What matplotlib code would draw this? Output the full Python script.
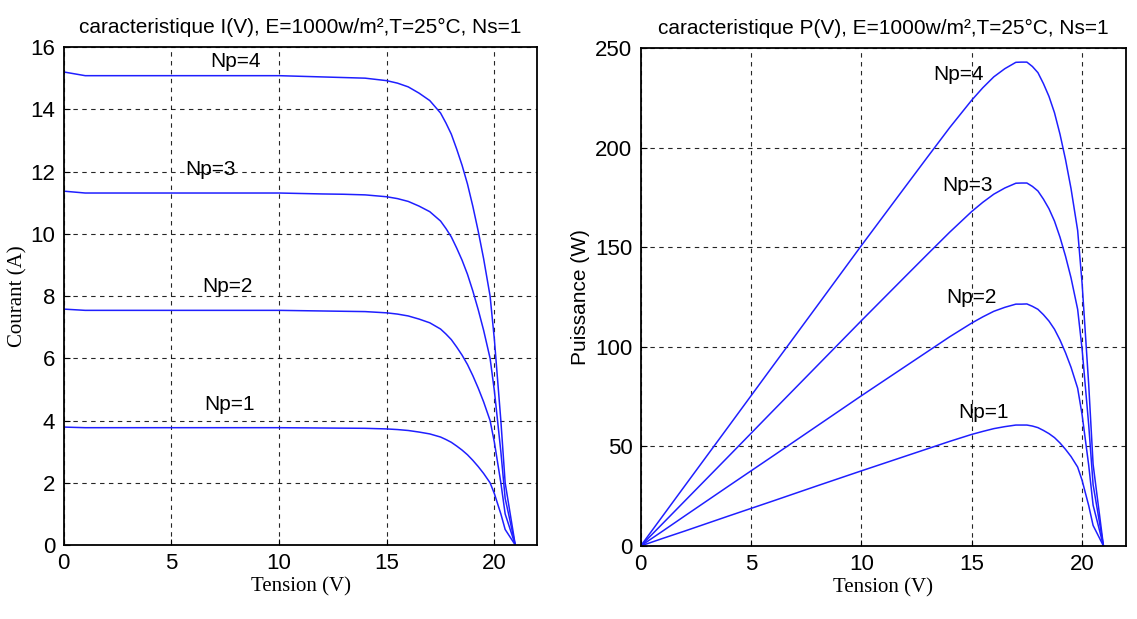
import matplotlib
matplotlib.use('Agg')
import matplotlib.pyplot as plt

# Valeurs (tension en V)
tension = [0, 1, 2, 4, 6, 8, 10, 12, 13, 14, 15, 15.5, 16, 16.5, 17, 17.25, 17.5, 17.75,
           18, 18.25, 18.5, 18.75, 19, 19.25, 19.5, 19.8, 20.0, 20.3, 20.5, 20.97]

courant_np1 = [3.79, 3.77, 3.77, 3.77, 3.77, 3.77, 3.77, 3.76, 3.755, 3.75, 3.73, 3.71, 3.68, 3.63,
               3.57, 3.52, 3.47, 3.39, 3.30, 3.18, 3.05, 2.90, 2.72, 2.52, 2.30, 2.00, 1.65, 1.00,
               0.50, 0.0]
courant_np2 = [7.58, 7.54, 7.54, 7.54, 7.54, 7.54, 7.54, 7.52, 7.51, 7.50, 7.46, 7.42, 7.36, 7.26,
               7.14, 7.04, 6.94, 6.78, 6.60, 6.36, 6.10, 5.80, 5.44, 5.04, 4.60, 4.00, 3.30, 2.00,
               1.00, 0.0]
courant_np3 = [11.37, 11.31, 11.31, 11.31, 11.31, 11.31, 11.31, 11.28, 11.27, 11.25, 11.19, 11.13,
               11.04, 10.89, 10.71, 10.56, 10.41, 10.17, 9.90, 9.54, 9.15, 8.70, 8.16, 7.56, 6.90,
               6.00, 4.95, 3.00, 1.50, 0.0]
courant_np4 = [15.2, 15.08, 15.08, 15.08, 15.08, 15.08, 15.08, 15.04, 15.02, 15.0, 14.92, 14.84,
               14.72, 14.52, 14.28, 14.08, 13.88, 13.56, 13.2, 12.72, 12.2, 11.6, 10.88, 10.08, 9.2,
               8.0, 6.6, 4.0, 2.0, 0.0]

puissance_np1 = [0, 3.8, 7.5, 15.1, 22.6, 30.2, 37.7, 45.1, 48.8, 52.5, 56.0, 57.5, 58.9, 59.9,
                 60.7, 60.7, 60.7, 60.2, 59.4, 58.0, 56.4, 54.4, 51.7, 48.5, 44.9, 39.6, 33.0,
                 20.3, 10.3, 0]
puissance_np2 = [0, 7.5, 15.1, 30.2, 45.2, 60.3, 75.4, 90.2, 97.6, 105.0, 111.9, 115.0, 117.8,
                 119.8, 121.4, 121.4, 121.5, 120.3, 118.8, 116.1, 112.9, 108.8, 103.4, 97.0, 89.7,
                 79.2, 66.0, 40.6, 20.5, 0]
puissance_np3 = [0, 11.3, 22.6, 45.2, 67.9, 90.5, 113.1, 135.4, 146.5, 157.5, 167.9, 172.5, 176.6,
                 179.7, 182.1, 182.2, 182.2, 180.5, 178.2, 174.1, 169.3, 163.1, 155.0, 145.5, 134.6,
                 118.8, 99.0, 60.9, 30.8, 0]
puissance_np4 = [0, 15.1, 30.2, 60.3, 90.5, 120.6, 150.8, 180.5, 195.3, 210.0, 223.8, 230.0, 235.5,
                 239.6, 242.8, 242.9, 242.9, 240.7, 237.6, 232.1, 225.7, 217.5, 206.7, 194.0, 179.4,
                 158.4, 132.0, 81.2, 41.0, 0]

etiquettes = ['Np=1', 'Np=2', 'Np=3', 'Np=4']
pos_etiq_i = [(7.7, 4.5), (7.6, 8.3), (6.8, 12.05), (8.0, 15.55)]
pos_etiq_p = [(15.55, 66.8), (15.0, 124.6), (14.8, 181), (14.4, 236.7)]

SANS = ['Liberation Sans', 'DejaVu Sans']
SERIF = ['Liberation Serif', 'DejaVu Serif']
BLEU = '#1f1fff'

plt.rcParams['font.family'] = SANS


def style_axes(ax, yticks):
    ax.set_xlim(0, 22)
    ax.set_xticks([0, 5, 10, 15, 20])
    ax.set_yticks(yticks)
    ax.set_ylim(yticks[0], yticks[-1])
    ax.grid(True, color='black', linestyle=(0, (4, 4)), linewidth=0.8, alpha=0.85)
    ax.tick_params(direction='in', labelsize=16, length=4, pad=6)
    for s in ax.spines.values():
        s.set_linewidth(1.3)
        s.set_color('black')


fig = plt.figure(figsize=(11.37, 6.19), dpi=100, facecolor='white')

# --- I(V) ---
ax1 = fig.add_axes([0.056, 0.1195, 0.4167, 0.8045])
for i_vals in [courant_np1, courant_np2, courant_np3, courant_np4]:
    ax1.plot(tension, i_vals, color=BLEU, linewidth=1.1)
for txt, (x, y) in zip(etiquettes, pos_etiq_i):
    ax1.text(x, y, txt, fontsize=15, ha='center', va='center', family=SANS)
style_axes(ax1, list(range(0, 17, 2)))
ax1.set_title('caracteristique I(V), E=1000w/m²,T=25°C, Ns=1', fontsize=15, pad=10)
ax1.set_xlabel('Tension (V)', fontsize=15, family=SERIF, labelpad=2)
ax1.set_ylabel('Courant (A)', fontsize=15, family=SERIF, labelpad=2)

# --- P(V) ---
ax2 = fig.add_axes([0.5635, 0.118, 0.427, 0.8045])
for p_vals in [puissance_np1, puissance_np2, puissance_np3, puissance_np4]:
    ax2.plot(tension, p_vals, color=BLEU, linewidth=1.1)
for txt, (x, y) in zip(etiquettes, pos_etiq_p):
    ax2.text(x, y, txt, fontsize=15, ha='center', va='center', family=SANS)
style_axes(ax2, list(range(0, 251, 50)))
ax2.set_title('caracteristique P(V), E=1000w/m²,T=25°C, Ns=1', fontsize=15, pad=10)
ax2.set_xlabel('Tension (V)', fontsize=15, family=SERIF, labelpad=2)
ax2.set_ylabel('Puissance (W)', fontsize=15, family=SANS, labelpad=4)

fig.savefig('out.png', dpi=100, facecolor='white')
